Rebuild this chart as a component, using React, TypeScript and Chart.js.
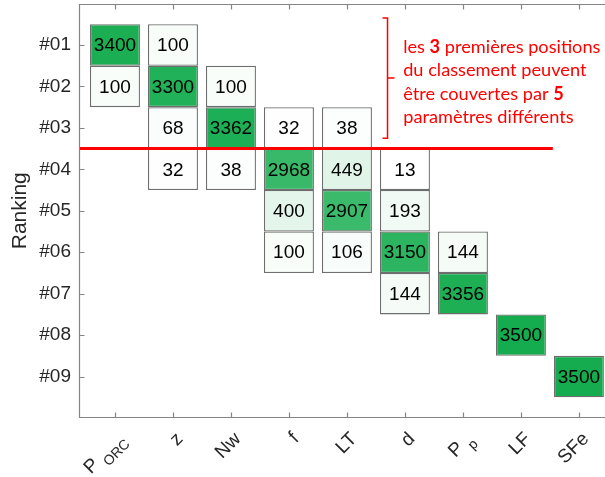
import React, { useEffect, useRef } from 'react';
import { Chart, registerables } from 'chart.js';

Chart.register(...registerables);

// ---------- data ----------
const parameters = ['P_ORC', 'z', 'Nw', 'f', 'LT', 'd', 'P_p', 'LF', 'SFe'];
const rankLabels = ['#01', '#02', '#03', '#04', '#05', '#06', '#07', '#08', '#09'];

const cellParameter = [
  'P_ORC', 'P_ORC',
  'z', 'z', 'z', 'z',
  'Nw', 'Nw', 'Nw',
  'f', 'f', 'f', 'f',
  'LT', 'LT', 'LT', 'LT',
  'd', 'd', 'd', 'd',
  'P_p', 'P_p',
  'LF',
  'SFe',
];
const cellRank = [
  1, 2,
  1, 2, 3, 4,
  2, 3, 4,
  3, 4, 5, 6,
  3, 4, 5, 6,
  4, 5, 6, 7,
  6, 7,
  8,
  9,
];
const cellCount = [
  3400, 100,
  100, 3300, 68, 32,
  100, 3362, 38,
  32, 2968, 400, 100,
  38, 449, 2907, 106,
  13, 193, 3150, 144,
  144, 3356,
  3500,
  3500,
];
const maxCount = 3500;

const annotationLines = [
  'les **3** premières positions',
  'du classement peuvent',
  'être couvertes par **5**',
  'paramètres différents',
];
const cutoffRank = 3.5;

// ---------- styling ----------
const FONT = '"Liberation Sans", Arial, Helvetica, sans-serif';
const TEXT_COLOR = '#262626';
const AXIS_COLOR = '#858585';
const CELL_BORDER = '#6e6e6e';
const RED = '#ff0000';
const LOW = [255, 255, 255];
const HIGH = [20, 172, 78];

const X_MIN = 0.38;
const X_MAX = 9.45;
const Y_MIN = 0;
const Y_MAX = 10;
const RED_LINE_END = 8.55;
const BRACKET_X = 5.7;
const BRACKET_TOP = 0.35;
const BRACKET_BOTTOM = 3.25;
const TEXT_X = 5.97;
const TEXT_FIRST = 1.19;
const TEXT_STEP = 0.565;

function colorFor(v: number): string {
  const t = Math.max(0, Math.min(1, v / maxCount));
  const c = LOW.map((l, i) => Math.round(l + (HIGH[i] - l) * t));
  return `rgb(${c[0]},${c[1]},${c[2]})`;
}

function drawXLabel(ctx: CanvasRenderingContext2D, label: string, ax: number, ay: number) {
  const parts = label.split('_');
  const main = parts[0];
  const sub = parts[1];
  const FS = 19;
  const SFS = 14;
  const mainFont = `${FS}px ${FONT}`;
  const subFont = `${SFS}px ${FONT}`;
  ctx.save();
  ctx.translate(ax, ay);
  ctx.rotate(-Math.PI / 4);
  ctx.fillStyle = TEXT_COLOR;
  ctx.textAlign = 'left';
  ctx.textBaseline = 'alphabetic';
  ctx.font = mainFont;
  const wMain = ctx.measureText(main + (sub ? ' ' : '')).width;
  let wSub = 0;
  if (sub) {
    ctx.font = subFont;
    wSub = ctx.measureText(sub).width;
  }
  const base = 0.36 * FS;
  ctx.font = mainFont;
  ctx.fillText(main, -(wMain + wSub), base);
  if (sub) {
    ctx.font = subFont;
    ctx.fillText(sub, -wSub, base + 7);
  }
  ctx.restore();
}

const decorPlugin = {
  id: 'decor',
  afterDatasetsDraw(chart: any) {
    const { ctx, chartArea: ca } = chart;
    const x = chart.scales.x;
    const y = chart.scales.y;
    const meta = chart.getDatasetMeta(0);

    ctx.save();
    // cell values
    ctx.font = `19px ${FONT}`;
    ctx.fillStyle = '#000';
    ctx.textAlign = 'center';
    ctx.textBaseline = 'middle';
    meta.data.forEach((el: any, i: number) => {
      const c = el.getCenterPoint();
      ctx.fillText(String(cellCount[i]), c.x, c.y + 1);
    });

    // axes box and inward ticks
    const L = Math.round(ca.left) + 0.5;
    const T = Math.round(ca.top) + 0.5;
    const B = Math.round(ca.bottom) - 0.5;
    ctx.strokeStyle = AXIS_COLOR;
    ctx.lineWidth = 1.2;
    ctx.beginPath();
    ctx.moveTo(ca.right + 2, T);
    ctx.lineTo(L, T);
    ctx.lineTo(L, B);
    ctx.lineTo(ca.right + 2, B);
    parameters.forEach((_, i) => {
      const px = Math.round(x.getPixelForValue(i + 1)) + 0.5;
      ctx.moveTo(px, B);
      ctx.lineTo(px, B - 5);
      ctx.moveTo(px, T);
      ctx.lineTo(px, T + 5);
    });
    rankLabels.forEach((_, i) => {
      const py = Math.round(y.getPixelForValue(i + 1)) + 0.5;
      ctx.moveTo(L, py);
      ctx.lineTo(L + 5, py);
    });
    ctx.stroke();

    // cut-off line
    const cy = y.getPixelForValue(cutoffRank);
    ctx.strokeStyle = RED;
    ctx.lineWidth = 3;
    ctx.beginPath();
    ctx.moveTo(ca.left + 1, cy);
    ctx.lineTo(x.getPixelForValue(RED_LINE_END), cy);
    ctx.stroke();

    // bracket
    const bx = x.getPixelForValue(BRACKET_X);
    const bt = y.getPixelForValue(BRACKET_TOP);
    const bb = y.getPixelForValue(BRACKET_BOTTOM);
    const bm = (bt + bb) / 2;
    ctx.lineWidth = 1.5;
    ctx.beginPath();
    ctx.moveTo(bx - 5, bt);
    ctx.lineTo(bx, bt);
    ctx.lineTo(bx, bb);
    ctx.lineTo(bx - 5, bb);
    ctx.moveTo(bx, bm);
    ctx.lineTo(bx + 7, bm);
    ctx.stroke();

    // annotation text
    ctx.fillStyle = RED;
    ctx.textAlign = 'left';
    ctx.textBaseline = 'alphabetic';
    const tx = x.getPixelForValue(TEXT_X);
    annotationLines.forEach((line, li) => {
      const ty = y.getPixelForValue(TEXT_FIRST + li * TEXT_STEP);
      let cx = tx;
      line.split('**').forEach((seg, si) => {
        ctx.font = `${si % 2 === 1 ? 'bold ' : ''}18.2px Lato, "Open Sans", sans-serif`;
        ctx.fillText(seg, cx, ty);
        cx += ctx.measureText(seg).width;
      });
    });

    // x tick labels (with subscripts)
    parameters.forEach((p, i) => {
      const px = x.getPixelForValue(i + 1);
      drawXLabel(ctx, p, px + 6, ca.bottom + 17);
    });
    ctx.restore();
  },
};

export default function App() {
  const ref = useRef<HTMLCanvasElement | null>(null);
  useEffect(() => {
    if (!ref.current) return;
    Chart.defaults.font.family = FONT;
    const chart = new Chart(ref.current, {
      type: 'bar',
      data: {
        datasets: [
          {
            data: cellCount.map((v, i) => ({
              x: parameters.indexOf(cellParameter[i]) + 1,
              y: [cellRank[i] - 0.5, cellRank[i] + 0.5],
            })) as any,
            backgroundColor: cellCount.map(colorFor),
            borderColor: CELL_BORDER,
            borderWidth: 1.3,
            borderSkipped: false,
            inflateAmount: 0,
            barPercentage: 0.862,
            categoryPercentage: 1,
          } as any,
        ],
      },
      plugins: [decorPlugin],
      options: {
        animation: false,
        responsive: false,
        events: [],
        layout: { padding: { top: 3.5, right: 0, left: 0, bottom: 0 } },
        plugins: { legend: { display: false }, tooltip: { enabled: false } },
        scales: {
          x: {
            type: 'linear',
            min: X_MIN,
            max: X_MAX,
            offset: false,
            grid: { display: false, drawTicks: false },
            border: { display: false },
            ticks: { display: false },
            afterBuildTicks: (s: any) => {
              s.ticks = parameters.map((_, i) => ({ value: i + 1 }));
            },
            afterFit: (s: any) => {
              s.height = 59;
              s.paddingLeft = 0;
              s.paddingRight = 0;
            },
          },
          y: {
            type: 'linear',
            reverse: true,
            min: Y_MIN,
            max: Y_MAX,
            grid: { display: false, drawTicks: false },
            border: { display: false },
            ticks: {
              padding: 8,
              color: TEXT_COLOR,
              font: { size: 19, family: FONT },
              callback: (v: any) => rankLabels[Number(v) - 1] ?? '',
            },
            afterBuildTicks: (s: any) => {
              s.ticks = rankLabels.map((_, i) => ({ value: i + 1 }));
            },
            afterFit: (s: any) => {
              s.width = 79;
              s.paddingTop = 0;
              s.paddingBottom = 0;
            },
            title: {
              display: true,
              text: 'Ranking',
              color: TEXT_COLOR,
              font: { size: 21, family: FONT },
              padding: { top: 8, bottom: 0 },
            },
          },
        },
      } as any,
    });
    return () => chart.destroy();
  }, []);

  return (
    <div style={{ position: 'fixed', left: 0, top: 0, width: 605, height: 477, background: '#fff' }}>
      <canvas ref={ref} width={605} height={477} style={{ display: 'block', width: 605, height: 477 }} />
    </div>
  );
}
